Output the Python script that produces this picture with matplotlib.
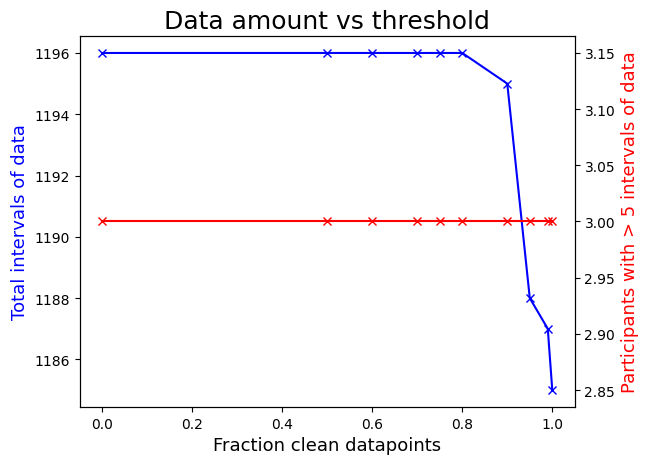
import matplotlib
matplotlib.use("Agg")
import matplotlib.pyplot as plt

fractions = [0.0, 0.5, 0.6, 0.7, 0.75, 0.8, 0.9, 0.95, 0.99, 1.0]
total_intervals = [1196, 1196, 1196, 1196, 1196, 1196, 1195, 1188, 1187, 1185]
participants = [3, 3, 3, 3, 3, 3, 3, 3, 3, 3]

fig, ax1 = plt.subplots(figsize=(6.48, 4.64), dpi=100)
fig.subplots_adjust(left=0.123, right=0.887, top=0.92, bottom=0.121)

ax1.plot(fractions, total_intervals, 'bx-')
ax1.set_xlabel('Fraction clean datapoints', fontsize=13)
ax1.set_ylabel('Total intervals of data', color='b', fontsize=13)

ax2 = ax1.twinx()
ax2.plot(fractions, participants, 'rx-')
ax2.set_ylabel('Participants with > 5 intervals of data', color='r', fontsize=13)

ax1.set_title('Data amount vs threshold', fontsize=18)

fig.savefig('out.png', dpi=100)
